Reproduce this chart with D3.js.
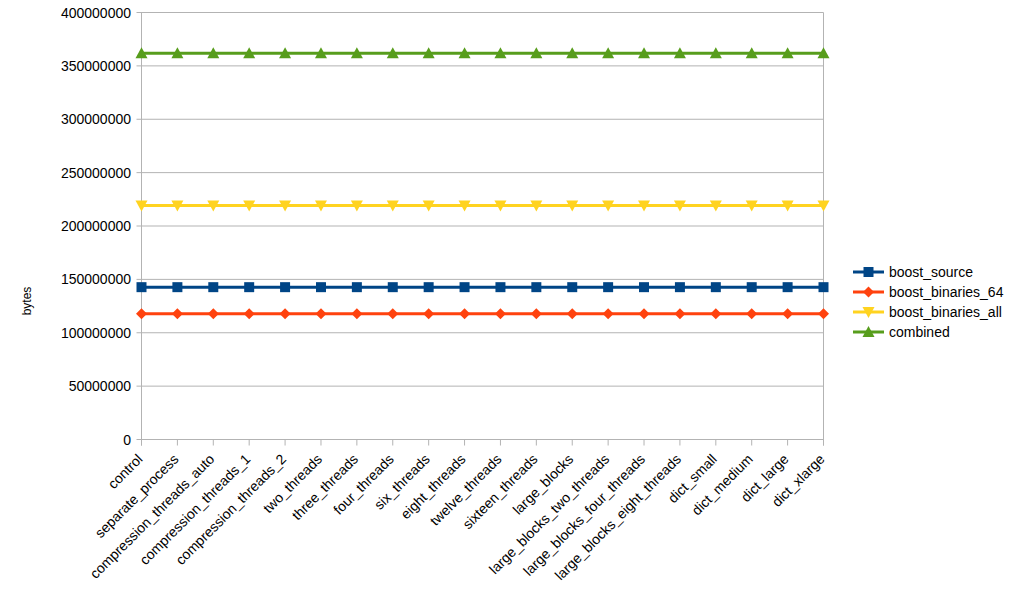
<!DOCTYPE html>
<html><head><meta charset="utf-8">
<script src="https://cdn.jsdelivr.net/npm/d3@7"></script>
<style>body{margin:0;background:#fff}svg{display:block;font-family:"Liberation Sans",Arial,sans-serif}</style>
</head><body><svg id="c" width="1018" height="604"></svg>
<script>
const categories = ["control","separate_process","compression_threads_auto","compression_threads_1","compression_threads_2","two_threads","three_threads","four_threads","six_threads","eight_threads","twelve_threads","sixteen_threads","large_blocks","large_blocks_two_threads","large_blocks_four_threads","large_blocks_eight_threads","dict_small","dict_medium","dict_large","dict_xlarge"];
const boost_source = [142700000,142700000,142700000,142700000,142700000,142700000,142700000,142700000,142700000,142700000,142700000,142700000,142700000,142700000,142700000,142700000,142700000,142700000,142700000,142700000];
const boost_binaries_64 = [117800000,117800000,117800000,117800000,117800000,117800000,117800000,117800000,117800000,117800000,117800000,117800000,117800000,117800000,117800000,117800000,117800000,117800000,117800000,117800000];
const boost_binaries_all = [219200000,219200000,219200000,219200000,219200000,219200000,219200000,219200000,219200000,219200000,219200000,219200000,219200000,219200000,219200000,219200000,219200000,219200000,219200000,219200000];
const combined = [361900000,361900000,361900000,361900000,361900000,361900000,361900000,361900000,361900000,361900000,361900000,361900000,361900000,361900000,361900000,361900000,361900000,361900000,361900000,361900000];
const yTicks = [0,50000000,100000000,150000000,200000000,250000000,300000000,350000000,400000000];
const seriesNames = ["boost_source","boost_binaries_64","boost_binaries_all","combined"];
const seriesColors = ["#004586","#ff420e","#ffd320","#579d1c"];
const seriesData = [boost_source,boost_binaries_64,boost_binaries_all,combined];
const markerTypes = ["square","diamond","down","up"];

const svg = d3.select("#c");
const L=141.5, R=823.5, T=12.5, B=439.5;
const x = d3.scalePoint().domain(categories).range([L,R]).padding(0);
const y = d3.scaleLinear().domain([0,400000000]).range([B,T]);
const grid="#b3b3b3";

// horizontal gridlines
svg.append("g").selectAll("line").data(yTicks).join("line")
  .attr("x1",L-5).attr("x2",R).attr("y1",d=>y(d)).attr("y2",d=>y(d))
  .attr("stroke",grid).attr("stroke-width",1);
// y labels
svg.append("g").selectAll("text").data(yTicks).join("text")
  .attr("x",131).attr("y",d=>y(d)+5).attr("text-anchor","end")
  .attr("font-size",14).attr("fill","#000").text(d=>d3.format("d")(d));
// axis lines
svg.append("line").attr("x1",L).attr("x2",L).attr("y1",T).attr("y2",B+6).attr("stroke",grid);
svg.append("line").attr("x1",R).attr("x2",R).attr("y1",T).attr("y2",B+6).attr("stroke",grid);
// x ticks
svg.append("g").selectAll("line").data(categories).join("line")
  .attr("x1",d=>x(d)).attr("x2",d=>x(d)).attr("y1",B).attr("y2",B+6).attr("stroke",grid);
// x labels
svg.append("g").selectAll("text").data(categories).join("text")
  .attr("transform",d=>`translate(${x(d)+2},${B+20.5}) rotate(-45)`)
  .attr("text-anchor","end").attr("font-size",14).attr("fill","#000").text(d=>d);
// y title
svg.append("text").attr("transform","translate(31,301) rotate(-90)").attr("text-anchor","middle")
  .attr("font-size",12).text("bytes");

function marker(g,type,cx,cy,color){
  let p;
  if(type==="square") p=`M${cx-5},${cy-5}h10v10h-10z`;
  else if(type==="diamond") p=`M${cx},${cy-5.5}L${cx+5.5},${cy}L${cx},${cy+5.5}L${cx-5.5},${cy}z`;
  else if(type==="up") p=`M${cx},${cy-6}L${cx+6},${cy+5}L${cx-6},${cy+5}z`;
  else p=`M${cx},${cy+6}L${cx+6},${cy-5}L${cx-6},${cy-5}z`;
  g.append("path").attr("d",p).attr("fill",color);
}

const line = d3.line().x((d,i)=>x(categories[i])).y(d=>y(d));
seriesData.forEach((data,si)=>{
  const g = svg.append("g");
  g.append("path").datum(data).attr("d",line).attr("fill","none")
    .attr("stroke",seriesColors[si]).attr("stroke-width",3);
  data.forEach((v,i)=>marker(g,markerTypes[si],x(categories[i]),y(v),seriesColors[si]));
});

// legend
const lg = svg.append("g");
seriesNames.forEach((n,i)=>{
  const yy = 272 + i*20;
  lg.append("line").attr("x1",853).attr("x2",884).attr("y1",yy).attr("y2",yy)
    .attr("stroke",seriesColors[i]).attr("stroke-width",3);
  marker(lg,markerTypes[i],868.5,yy,seriesColors[i]);
  lg.append("text").attr("x",889).attr("y",yy+5).attr("font-size",14).text(n);
});
</script></body></html>
